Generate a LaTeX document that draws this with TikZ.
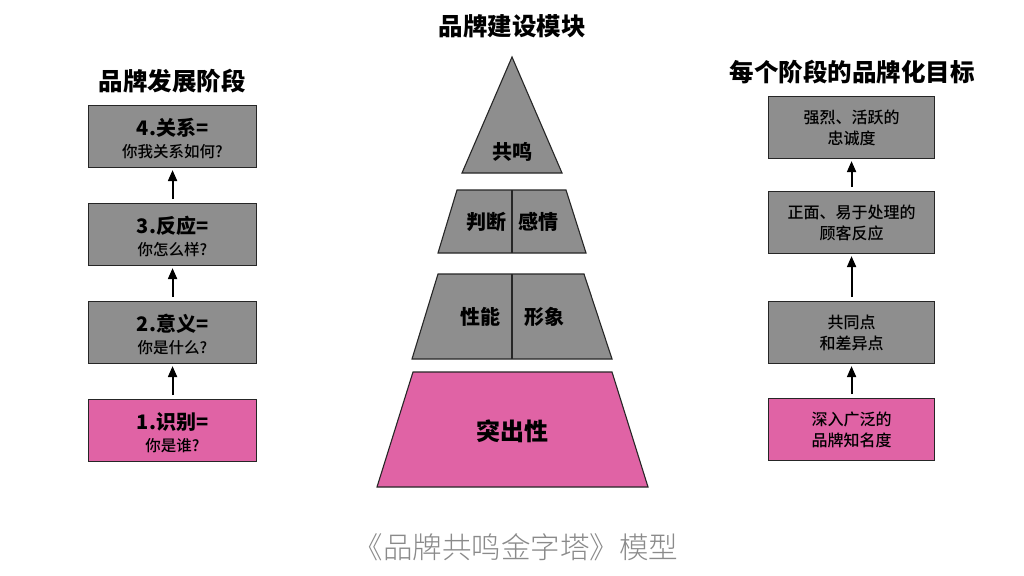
\documentclass[tikz,border=0pt]{standalone}
\usepackage{fontspec}
\setmainfont{Noto Sans CJK SC}
\newfontfamily\medfont{Noto Sans CJK SC Medium}
\newfontfamily\lightfont{Noto Sans CJK SC Light}
\usetikzlibrary{calc,arrows.meta}
\definecolor{boxgray}{HTML}{8E8E8E}
\definecolor{boxpink}{HTML}{E063A5}
\definecolor{capgray}{HTML}{8A8A8A}
\begin{document}
\begin{tikzpicture}[x=1pt,y=-1pt,
  titletext/.style={font=\fontsize{24.5}{28}\selectfont\bfseries, inner sep=0},
  headtext/.style={font=\fontsize{20}{24}\selectfont\bfseries, inner sep=0},
  subtext/.style={font=\fontsize{15.5}{18}\selectfont\medfont, inner sep=0},
  goaltext/.style={font=\fontsize{16}{21}\selectfont\medfont, align=center, inner sep=0},
  tiertext/.style={font=\fontsize{20}{24}\selectfont\bfseries, inner sep=0},
  stagebox/.style={draw=black!85, line width=1.1pt, minimum width=168pt, minimum height=62pt, anchor=north west, inner sep=0},
  goalbox/.style={draw=black!85, line width=1.1pt, minimum width=166pt, minimum height=62pt, anchor=north west, inner sep=0},
  tier/.style={draw=black!85, line width=1.1pt, line join=miter},
  uparrow/.style={line width=2pt, -{Triangle[length=11pt,width=9pt]}, shorten <=4pt, shorten >=2pt}
]
\useasboundingbox[fill=white] (0,0) rectangle (1024,575);

% ---------- left column ----------
\node[titletext] (ltitle) at (172,81) {品牌发展阶段};
\node[stagebox, fill=boxgray] (l4) at (88,105) {};
\node[stagebox, fill=boxgray] (l3) at (88,203) {};
\node[stagebox, fill=boxgray] (l2) at (88,301) {};
\node[stagebox, fill=boxpink] (l1) at (88,399) {};
\node[headtext] (l4a) at ($(l4.north)+(0,23)$) {4.关系=};
\node[subtext]  (l4b) at ($(l4.north)+(0,47)$) {你我关系如何?};
\node[headtext] (l3a) at ($(l3.north)+(0,23)$) {3.反应=};
\node[subtext]  (l3b) at ($(l3.north)+(0,47)$) {你怎么样?};
\node[headtext] (l2a) at ($(l2.north)+(0,23)$) {2.意义=};
\node[subtext]  (l2b) at ($(l2.north)+(0,47)$) {你是什么?};
\node[headtext] (l1a) at ($(l1.north)+(0,23)$) {1.识别=};
\node[subtext]  (l1b) at ($(l1.north)+(0,47)$) {你是谁?};
\draw[uparrow] (l1.north) -- (l2.south);
\draw[uparrow] (l2.north) -- (l3.south);
\draw[uparrow] (l3.north) -- (l4.south);

% ---------- pyramid ----------
\node[titletext] (mtitle) at (512,26) {品牌建设模块};
\draw[tier, fill=boxgray] (512,57) -- (562,173) -- (462,173) -- cycle;
\draw[tier, fill=boxgray] (457,190) -- (566,190) -- (586,253) -- (438,253) -- cycle;
\draw[tier] (512,190) -- (512,253);
\draw[tier, fill=boxgray] (438,274) -- (584,274) -- (612,359) -- (412,359) -- cycle;
\draw[tier] (512,274) -- (512,359);
\draw[tier, fill=boxpink] (413,372) -- (612,372) -- (648,487) -- (377,487) -- cycle;
\node[tiertext] (t1) at (512,152) {共鸣};
\node[tiertext] (t2a) at (486,222) {判断};
\node[tiertext] (t2b) at (538,222) {感情};
\node[tiertext] (t3a) at (480,317) {性能};
\node[tiertext] (t3b) at (544,317) {形象};
\node[tiertext, font=\fontsize{24}{28}\selectfont\bfseries] (t4) at (512,431) {突出性};

% ---------- right column ----------
\node[titletext] (rtitle) at (852,72) {每个阶段的品牌化目标};
\node[goalbox, fill=boxgray] (r4) at (768,96) {};
\node[goalbox, fill=boxgray] (r3) at (768,191) {};
\node[goalbox, fill=boxgray] (r2) at (768,301) {};
\node[goalbox, fill=boxpink] (r1) at (768,398) {};
\node[goaltext] at (r4.center) (r4t) {强烈、活跃的\\忠诚度};
\node[goaltext] at (r3.center) (r3t) {正面、易于处理的\\顾客反应};
\node[goaltext] at (r2.center) (r2t) {共同点\\和差异点};
\node[goaltext] at (r1.center) (r1t) {深入广泛的\\品牌知名度};
\draw[uparrow] (r1.north) -- (r2.south);
\draw[uparrow] (r2.north) -- (r3.south);
\draw[uparrow] (r3.north) -- (r4.south);

% ---------- caption ----------
\node[font=\fontsize{29.5}{33}\selectfont\lightfont, text=capgray, inner sep=0] (cap) at (516,547) {《品牌共鸣金字塔》模型};
\end{tikzpicture}
\end{document}
